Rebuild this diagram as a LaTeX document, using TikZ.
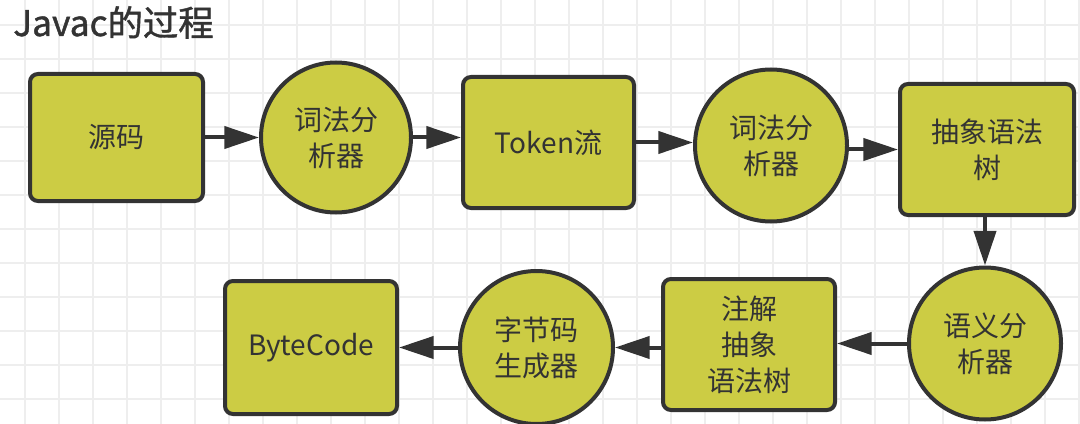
\documentclass[tikz,border=0pt]{standalone}
\usepackage{fontspec}
\setmainfont{Noto Sans CJK SC}
\newfontfamily\titlefont[FakeBold=1.2]{Noto Sans CJK SC}
\usetikzlibrary{arrows.meta}
\definecolor{fillc}{HTML}{CCCC44}
\definecolor{linec}{HTML}{333333}
\definecolor{gridc}{HTML}{EEEEEE}
\def\pxu{0.75pt}
\begin{document}
\begin{tikzpicture}[x=0.75pt,y=-0.75pt,
  base/.style={draw=linec, line width=3pt, fill=fillc, text=linec,
    font=\fontsize{21}{27}\selectfont, align=center, inner sep=0pt},
  box/.style={base, rectangle, rounded corners=6pt},
  circ/.style={base, circle},
  arr/.style={draw=linec, line width=3pt, -{Triangle[length=26pt,width=16.5pt]}}]
\useasboundingbox (0,0) rectangle (1080,424);
\fill[white] (0,0) rectangle (1080,424);
\foreach \i in {0,...,31} {\draw[gridc, line width=1.5pt] (25+34*\i,0) -- (25+34*\i,424);}
\foreach \i in {0,...,11} {\draw[gridc, line width=1.5pt] (0,25+34*\i) -- (1080,25+34*\i);}
\node[anchor=base west, text=linec, font=\titlefont\fontsize{26.5}{30}\selectfont, inner sep=0pt] (title) at (13,36) {Javac的过程};
\node[box, minimum width=173*\pxu, minimum height=127*\pxu] (b1) at (116.5,137.5) {源码};
\node[circ, minimum size=150*\pxu] (c1) at (336,137.5) {词法分\\析器};
\node[box, minimum width=171*\pxu, minimum height=131*\pxu] (tok) at (548.5,142.5) {Token流};
\node[circ, minimum size=152*\pxu] (c2) at (771,145.5) {词法分\\析器};
\node[box, minimum width=174*\pxu, minimum height=131*\pxu] (b3) at (987,149.5) {抽象语法\\树};
\node[circ, minimum size=152*\pxu] (c3) at (985,343.5) {语义分\\析器};
\node[box, minimum width=172*\pxu, minimum height=131*\pxu] (b5) at (749,344.5) {注解\\抽象\\语法树};
\node[circ, minimum size=153*\pxu] (c4) at (536.5,347.5) {字节码\\生成器};
\node[box, minimum width=172*\pxu, minimum height=133*\pxu] (b6) at (311,347.5) {ByteCode};
\draw[arr] (b1.east) -- (c1.west);
\draw[arr] (c1.east) -- (c1.east -| tok.west);
\draw[arr] (tok.east) -- (tok.east -| c2.west);
\draw[arr] (c2.east |- b3.west) -- (b3.west);
\draw[arr] (b3.south -| c3.north) -- (c3.north);
\draw[arr] (c3.west) -- (c3.west -| b5.east);
\draw[arr] (b5.east |- c4.east) ++(-172*\pxu,0) -- (c4.east);
\draw[arr] (c4.west) -- (b6.east |- c4.west);
\end{tikzpicture}
\end{document}
